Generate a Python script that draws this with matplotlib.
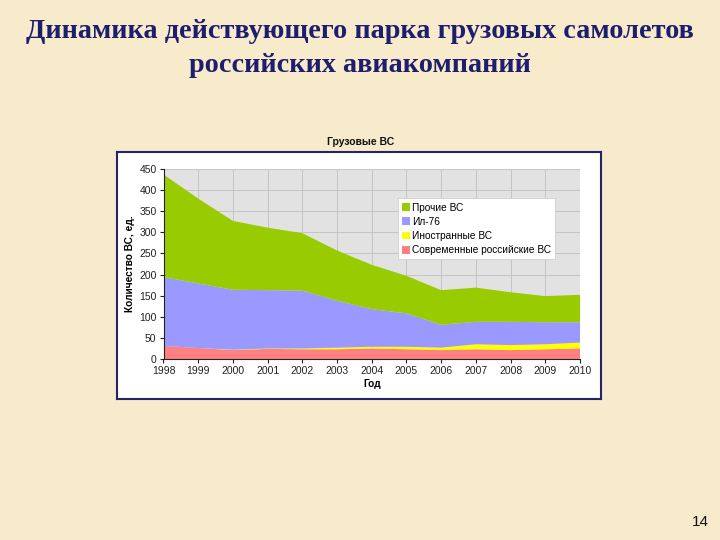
import matplotlib
matplotlib.use("Agg")
import matplotlib.pyplot as plt
import numpy as np

years = [1998, 1999, 2000, 2001, 2002, 2003, 2004, 2005, 2006, 2007, 2008, 2009, 2010]
modern_ru = [31, 26, 21, 24, 23, 23, 25, 23, 21, 23, 21, 23, 25]
foreign = [0, 0, 1, 1, 2, 4, 4, 6, 6, 12, 12, 12, 14]
il76 = [163, 153, 142, 138, 137, 111, 89, 79, 54, 53, 55, 52, 48]
other = [243, 201, 163, 148, 136, 119, 105, 89, 82, 81, 70, 62, 65]
labels = ["Современные российские ВС", "Иностранные ВС", "Ил-76", "Прочие ВС"]
colors = ["#ff8080", "#ffff00", "#9999ff", "#99cc00"]

bg = "#f8ebcb"
fig = plt.figure(figsize=(7.2, 5.4), dpi=100, facecolor=bg)
plt.rcParams['font.family'] = ['Liberation Sans', 'DejaVu Sans']

# Main title
for txt, yy in [("Динамика действующего парка грузовых самолетов", 32),
                ("российских авиакомпаний", 66)]:
    fig.text(0.5, 1 - yy / 540, txt, ha="center", va="center", fontsize=20.3,
             fontweight="bold", family=["Liberation Serif", "DejaVu Serif"],
             color="#1e1e6e")

# Chart frame (background axes)
frame = fig.add_axes([117 / 720, 1 - 399 / 540, 484 / 720, 247 / 540], zorder=0)
frame.set_facecolor("white")
frame.set_xticks([])
frame.set_yticks([])
for s in frame.spines.values():
    s.set_color("#23236e")
    s.set_linewidth(1.5)

fig.text(361 / 720, 1 - 142 / 540, "Грузовые ВС", ha="center", va="center",
         fontsize=7.5, fontweight="bold", color="#111111")

ax = fig.add_axes([163.5 / 720, 1 - 359 / 540, 416.5 / 720, 190 / 540], zorder=2)
ax.set_facecolor("#e2e2e2")
ax.stackplot(years, modern_ru, foreign, il76, other, colors=colors,
             labels=labels, linewidth=0, zorder=2)
ax.set_xlim(1998, 2010)
ax.set_ylim(0, 450)
ax.set_xticks(years)
ax.set_yticks(np.arange(0, 451, 50))
ax.grid(True, color="#c4c4c4", linewidth=0.7, zorder=1)
ax.set_axisbelow(True)
for s in ["top", "right"]:
    ax.spines[s].set_visible(False)
for s in ["left", "bottom"]:
    ax.spines[s].set_color("#222222")
    ax.spines[s].set_linewidth(0.8)
ax.tick_params(labelsize=7.5, length=3, width=0.8, colors="#222222", pad=2)
ax.set_xlabel("Год", fontsize=7.3, fontweight="bold", labelpad=2)
ax.set_ylabel("Количество ВС, ед.", fontsize=7.3, fontweight="bold", labelpad=3)

h, l = ax.get_legend_handles_labels()
leg = ax.legend(h[::-1], l[::-1], loc="upper left", bbox_to_anchor=(0.563, 0.845),
                fontsize=7.3, frameon=True, fancybox=False, edgecolor="#cfcfcf",
                framealpha=1, handlelength=0.75, handleheight=0.8, handletextpad=0.25,
                borderpad=0.4, labelspacing=0.42, borderaxespad=0)
leg.get_frame().set_linewidth(0.6)

fig.text(700 / 720, 1 - 522 / 540, "14", ha="center", va="center",
         fontsize=11, color="#111111")

fig.savefig("out.png", dpi=100, facecolor=bg)
